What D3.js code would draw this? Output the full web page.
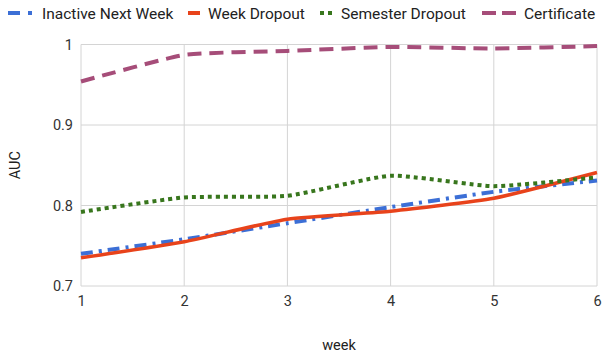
<!DOCTYPE html>
<html>
<head>
<meta charset="utf-8">
<script src="https://cdn.jsdelivr.net/npm/d3@7"></script>
<style>
  body { margin: 0; background: #fff; }
  text { font-family: Roboto, sans-serif; }
</style>
</head>
<body>
<div id="chart"></div>
<script>
const weeks = [1, 2, 3, 4, 5, 6]
const inactiveNextWeek = [0.740, 0.758, 0.778, 0.798, 0.817, 0.831]
const weekDropout = [0.735, 0.755, 0.783, 0.793, 0.809, 0.841]
const semesterDropout = [0.792, 0.810, 0.812, 0.837, 0.824, 0.835]
const certificate = [0.954, 0.987, 0.992, 0.997, 0.995, 0.998]
const yTicks = [0.7, 0.8, 0.9, 1]

const width = 602
const height = 355
const margin = { top: 44.5, right: 5, bottom: 69, left: 81 }

const series = [
  { name: 'Inactive Next Week', values: inactiveNextWeek, color: '#3c6fd6', dash: '12,6,3,6', w: 4 },
  { name: 'Week Dropout', values: weekDropout, color: '#e8431b', dash: null, w: 3.5 },
  { name: 'Semester Dropout', values: semesterDropout, color: '#38761d', dash: '4,4', w: 4 },
  { name: 'Certificate', values: certificate, color: '#a64d79', dash: '14,8', w: 4 }
]

const svg = d3.select('#chart').append('svg')
  .attr('width', width)
  .attr('height', height)

const x = d3.scaleLinear().domain([1, 6]).range([margin.left, width - margin.right])
const y = d3.scaleLinear().domain([0.7, 1]).range([height - margin.bottom, margin.top])

/* grid */
svg.append('g').selectAll('line.v')
  .data(weeks)
  .enter().append('line')
  .attr('x1', d => x(d)).attr('x2', d => x(d))
  .attr('y1', y(1)).attr('y2', y(0.7))
  .attr('stroke', '#d4d4d4').attr('stroke-width', 1)

svg.append('g').selectAll('line.h')
  .data(yTicks)
  .enter().append('line')
  .attr('x1', x(1)).attr('x2', x(6))
  .attr('y1', d => y(d)).attr('y2', d => y(d))
  .attr('stroke', '#d4d4d4').attr('stroke-width', 1)

/* axes */
const yAxis = svg.append('g')
  .attr('transform', `translate(${x(1)},0)`)
  .call(d3.axisLeft(y).tickValues(yTicks).tickSize(0).tickPadding(8).tickFormat(d3.format('')))
yAxis.select('.domain').remove()
yAxis.selectAll('text').attr('font-size', 14.5).attr('fill', '#333').attr('font-family', 'Roboto')

const xAxis = svg.append('g')
  .attr('transform', `translate(0,${y(0.7)})`)
  .call(d3.axisBottom(x).tickValues(weeks).tickSize(0).tickPadding(10).tickFormat(d3.format('d')))
xAxis.select('.domain').remove()
xAxis.selectAll('text').attr('font-size', 14.5).attr('fill', '#333').attr('font-family', 'Roboto')

svg.append('text')
  .attr('x', (x(1) + x(6)) / 2)
  .attr('y', 350)
  .attr('text-anchor', 'middle')
  .attr('font-size', 14.5)
  .attr('fill', '#222')
  .text('week')

svg.append('text')
  .attr('transform', `translate(20,${(y(0.7) + y(1)) / 2}) rotate(-90)`)
  .attr('text-anchor', 'middle')
  .attr('font-size', 14.5)
  .attr('fill', '#222')
  .text('AUC')

/* lines */
const line = d3.line()
  .x((d, i) => x(weeks[i]))
  .y(d => y(d))
  .curve(d3.curveCardinal.tension(0.5))

svg.append('g').selectAll('path')
  .data(series)
  .enter().append('path')
  .attr('d', d => line(d.values))
  .attr('fill', 'none')
  .attr('stroke', d => d.color)
  .attr('stroke-width', d => d.w)
  .attr('stroke-dasharray', d => d.dash)

/* legend */
const legendX = [8, 188, 320, 482]
const legendW = [26, 12, 13, 34]
const legend = svg.append('g').selectAll('g')
  .data(series)
  .enter().append('g')
  .attr('transform', (d, i) => `translate(${legendX[i]},13)`)

legend.append('line')
  .attr('x1', 0).attr('x2', (d, i) => legendW[i])
  .attr('y1', 0).attr('y2', 0)
  .attr('stroke', d => d.color)
  .attr('stroke-width', 4)
  .attr('stroke-dasharray', (d, i) => ['12,8,4,10', null, '4,4', '14,6'][i])

legend.append('text')
  .attr('x', (d, i) => legendW[i] + 8)
  .attr('y', 5.5)
  .attr('font-size', 15.5)
  .attr('fill', '#222')
  .text(d => d.name)
</script>
</body>
</html>
